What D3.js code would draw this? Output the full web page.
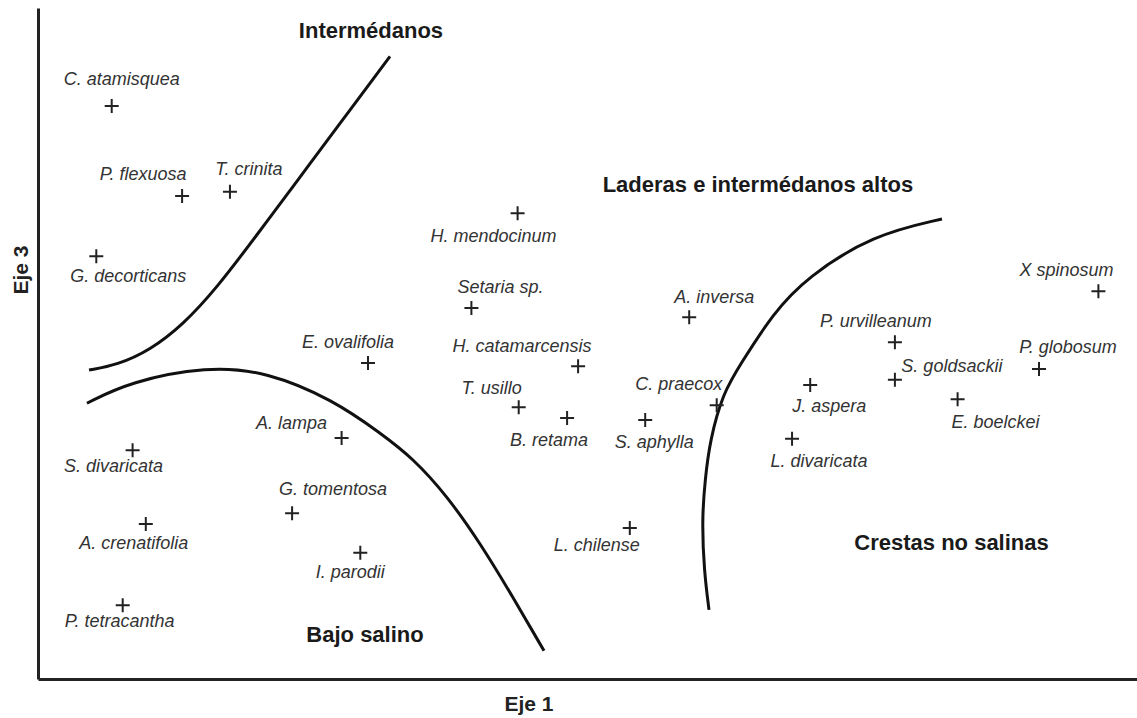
<!DOCTYPE html>
<html>
<head>
<meta charset="utf-8">
<script src="https://cdn.jsdelivr.net/npm/d3@7"></script>
<style>
  body { margin: 0; background: #fff; }
  text { font-family: "Liberation Sans", Arial, sans-serif; }
</style>
</head>
<body>
<div id="chart"></div>
<script>
// ordination scores (Eje 1 / Eje 3)
const species = ["C. atamisquea", "P. flexuosa", "T. crinita", "G. decorticans", "E. ovalifolia",
  "A. lampa", "S. divaricata", "G. tomentosa", "A. crenatifolia", "I. parodii", "P. tetracantha",
  "H. mendocinum", "Setaria sp.", "A. inversa", "H. catamarcensis", "T. usillo", "B. retama",
  "S. aphylla", "C. praecox", "L. chilense", "X spinosum", "P. urvilleanum", "P. globosum",
  "S. goldsackii", "J. aspera", "E. boelckei", "L. divaricata"];
const eje1 = [6.7, 13.1, 17.45, 5.3, 30.0, 27.6, 8.6, 23.1, 9.8, 29.3, 7.7,
  43.6, 39.4, 59.2, 49.1, 43.7, 48.1, 55.2, 61.7, 53.8, 96.4, 77.9, 91.0,
  77.9, 70.2, 83.6, 68.55];
const eje3 = [85.4, 72.0, 72.6, 63.0, 47.1, 35.9, 34.1, 24.7, 23.1, 18.8, 11.0,
  69.4, 55.3, 53.9, 46.6, 40.5, 38.9, 38.6, 40.8, 22.5, 57.8, 50.2, 46.2,
  44.6, 43.8, 41.7, 35.8];

// group boundaries
const boundIntermedanos = [[4.64, 46.05], [7.18, 46.8], [10.18, 49.0], [13.18, 52.8], [16.27, 58.3],
  [19.91, 66.2], [23.82, 74.8], [26.82, 81.4], [32.0, 92.8]];
const boundBajo = [[4.45, 41.1], [8.36, 44.3], [15.36, 46.6], [20.82, 45.8], [26.82, 41.6],
  [31.09, 36.7], [34.09, 32.9], [37.18, 27.3], [40.18, 20.3], [43.18, 12.2], [46.0, 4.2]];
const boundCrestas = [[82.18, 68.55], [75.91, 66.2], [69.91, 59.9], [66.82, 54.5], [63.82, 46.8],
  [62.27, 42.6], [61.09, 35.6], [60.64, 29.7], [60.36, 23.7], [60.55, 16.2], [61.0, 10.3]];

const groupNames = ["Intermédanos", "Laderas e intermédanos altos", "Crestas no salinas", "Bajo salino"];
const groupX = [30.27, 65.45, 83.05, 29.73];
const groupY = [95.6, 72.6, 19.2, 5.5];

// label placement relative to the marker (px): dx to text centre, dy to baseline
const labelOffsets = [[10, -21], [-39, -16], [19, -17], [32, 26], [-20, -15],
  [-50, -9], [-19, 22], [41, -18], [-12, 25], [-10, 25], [-3, 22],
  [-24, 29], [29, -15], [25, -14], [-56, -14], [-27, -13], [-18, 28],
  [9, 28], [-38, -15], [-33, 23], [-32, -15], [-19, -15], [29, -16],
  [57, -8], [19, 27], [38, 29], [27, 28]];

let W = 1137, H = 718;

let svg = d3.select("#chart")
  .append("svg")
  .attr("width", W)
  .attr("height", H);

let x = d3.scaleLinear().domain([0, 100]).range([38, 1138]);
let y = d3.scaleLinear().domain([0, 100]).range([679, 8]);

// axes (lines only, no ticks)
svg.append("g")
  .attr("transform", "translate(0,679)")
  .call(d3.axisBottom(x).ticks(0).tickSizeOuter(0))
  .select(".domain")
  .attr("stroke", "#222")
  .attr("stroke-width", 3);

svg.append("g")
  .attr("transform", "translate(38,0)")
  .call(d3.axisLeft(y).ticks(0).tickSizeOuter(0))
  .select(".domain")
  .attr("stroke", "#222")
  .attr("stroke-width", 3);

svg.append("text")
  .attr("x", 529)
  .attr("y", 711)
  .attr("text-anchor", "middle")
  .attr("font-weight", "bold")
  .attr("font-size", 21)
  .attr("fill", "#222")
  .text("Eje 1");

svg.append("text")
  .attr("transform", "translate(28,270)rotate(-90)")
  .attr("text-anchor", "middle")
  .attr("font-weight", "bold")
  .attr("font-size", 21)
  .attr("fill", "#222")
  .text("Eje 3");

// boundaries
let line = d3.line()
  .x(function (d) { return x(d[0]); })
  .y(function (d) { return y(d[1]); })
  .curve(d3.curveBasis);

[boundIntermedanos, boundBajo, boundCrestas].forEach(function (b) {
  svg.append("path")
    .datum(b)
    .attr("fill", "none")
    .attr("stroke", "#111")
    .attr("stroke-width", 3)
    .attr("d", line);
});

// group labels
svg.selectAll("grp")
  .data(groupNames)
  .enter()
  .append("text")
  .attr("x", function (d, i) { return x(groupX[i]); })
  .attr("y", function (d, i) { return y(groupY[i]); })
  .attr("text-anchor", "middle")
  .attr("font-weight", "bold")
  .attr("font-size", 22)
  .attr("fill", "#1a1a1a")
  .text(function (d) { return d; });

// species markers
let pts = species.map(function (s, i) { return { name: s, e1: eje1[i], e3: eje3[i], off: labelOffsets[i] }; });

svg.append("g").selectAll("plus")
  .data(pts)
  .enter()
  .append("path")
  .attr("d", "M-7,0H7M0,-7V7")
  .attr("transform", function (d) { return "translate(" + x(d.e1) + "," + y(d.e3) + ")"; })
  .attr("stroke", "#222")
  .attr("stroke-width", 2)
  .attr("fill", "none");

svg.append("g").selectAll("lbl")
  .data(pts)
  .enter()
  .append("text")
  .attr("x", function (d) { return x(d.e1) + d.off[0]; })
  .attr("y", function (d) { return y(d.e3) + d.off[1]; })
  .attr("text-anchor", "middle")
  .attr("font-style", "italic")
  .attr("font-size", 18)
  .attr("fill", "#333")
  .text(function (d) { return d.name; });
</script>
</body>
</html>
